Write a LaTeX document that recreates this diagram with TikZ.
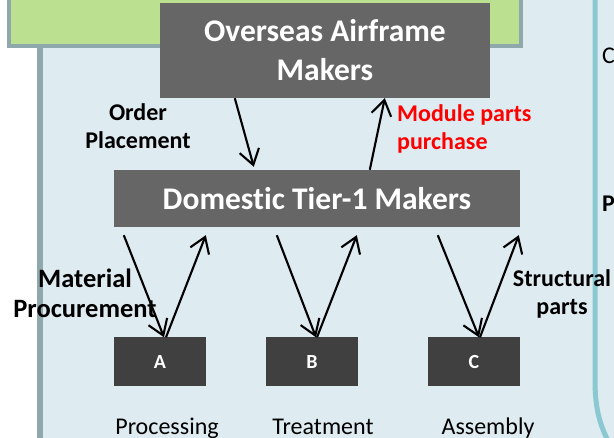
\documentclass[tikz,border=0pt]{standalone}
\usepackage{fontspec}
\setmainfont{Carlito}[Ligatures=CommonOff]
\usetikzlibrary{positioning, arrows.meta}
\definecolor{panelblue}{RGB}{222,235,240}
\definecolor{edgegray}{RGB}{143,168,172}
\definecolor{edgeteal}{RGB}{138,201,209}
\definecolor{leafgreen}{RGB}{187,224,143}
\definecolor{makergray}{RGB}{102,102,102}
\definecolor{partgray}{RGB}{64,64,64}
\begin{document}
\begin{tikzpicture}[
  x=1pt, y=-1pt,
  every node/.style={
    inner sep=0pt,
    align=center,
  },
  maker/.style={fill=makergray, text=white, font=\bfseries\fontsize{31.5}{39}\selectfont},
  partbox/.style={fill=partgray, text=white, minimum width=92pt, minimum height=49pt, font=\bfseries\fontsize{20}{24}\selectfont},
  flowlbl/.style={font=\bfseries\fontsize{24}{28}\selectfont},
  steplbl/.style={anchor=base, font=\fontsize{24}{28}\selectfont},
  flow/.style={line width=2.1pt, -{Straight Barb[length=15pt, width=20pt]}},
]

\useasboundingbox (0,0) rectangle (614,438);
\fill[panelblue] (40,-5) rectangle (620,445);
\draw[line width=5.5pt, edgegray] (40,46) -- (40,445);
\draw[line width=5pt, edgeteal] (595,-5) -- (595,380) .. controls (595,410) and (600,425) .. (610,445);
\filldraw[fill=leafgreen, draw=edgegray, line width=4pt] (8.5,-10) rectangle (521,46);

\node[maker, minimum width=330pt, minimum height=95pt] (overseas) at (325,50.5) {Overseas Airframe\\Makers};
\node[maker, minimum width=406pt, minimum height=57pt] (tier1) at (317,198.5) {Domestic Tier-1 Makers};

\node[partbox] (a) at (160,362) {A};
\node[partbox] (b) at (312,362) {B};
\node[partbox] (c) at (474,362) {C};

\node[steplbl] (proc) at (167,435) {Processing};
\node[steplbl] (treat) at (323,435) {Treatment};
\node[steplbl] (assy) at (488,435) {Assembly};

\node[flowlbl] (order) at (138,126) {Order\\Placement};
\node[flowlbl, text=red, anchor=west, align=left] (module) at (397,129) {Module parts\\purchase};
\node[flowlbl, font=\bfseries\fontsize{26.5}{30}\selectfont] (material) at (85,293) {Material\\Procurement};
\node[flowlbl] (struct) at (562,294) {Structural\\parts};

\node[anchor=base west, font=\fontsize{24}{28}\selectfont] (cut1) at (602,64) {C};
\node[anchor=base west, font=\bfseries\fontsize{24}{28}\selectfont] (cut2) at (602,212) {P};

\draw[flow] ([xshift=75]overseas.south west) -- ([shift={(140,-3)}]tier1.north west);
\draw[flow] ([xshift=256]tier1.north west) -- ([xshift=225]overseas.south west);

\draw[flow] ([shift={(10,8)}]tier1.south west) -- ([xshift=4]a.north);
\draw[flow] ([xshift=6]a.north) -- ([shift={(92,8)}]tier1.south west);
\draw[flow] ([shift={(163,8)}]tier1.south west) -- ([xshift=4]b.north);
\draw[flow] ([xshift=5]b.north) -- ([shift={(243,8)}]tier1.south west);
\draw[flow] ([shift={(324,8)}]tier1.south west) -- ([xshift=5]c.north);
\draw[flow] ([xshift=6]c.north) -- ([shift={(405,8)}]tier1.south west);

\end{tikzpicture}
\end{document}
